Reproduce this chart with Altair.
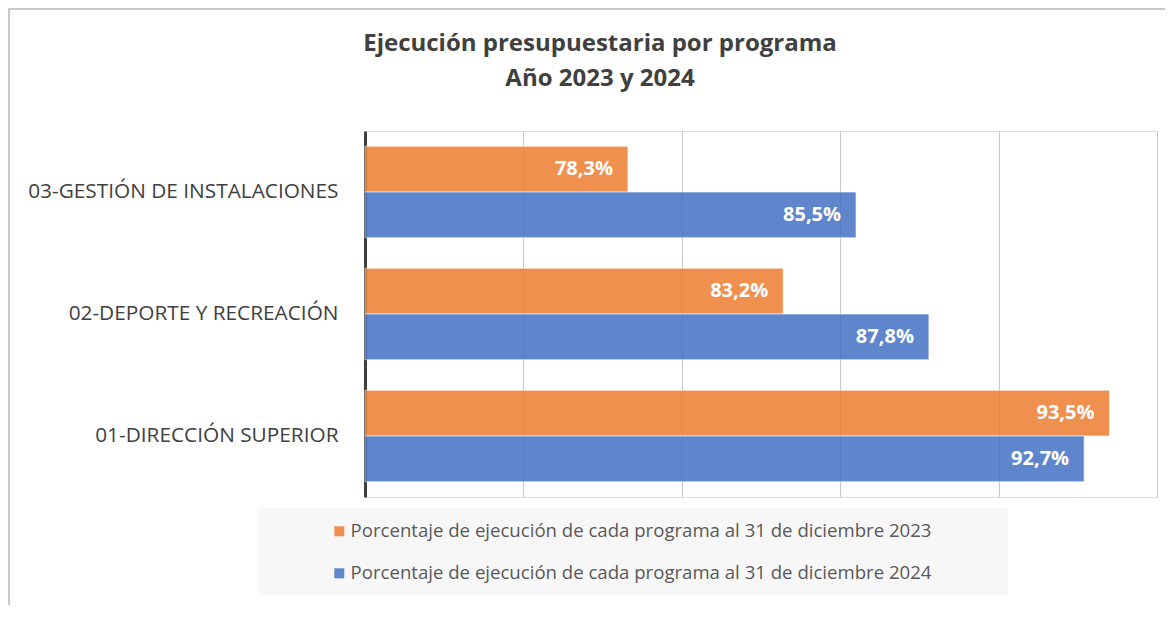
import altair as alt
import pandas as pd

programas = ["03-GESTIÓN DE INSTALACIONES", "02-DEPORTE Y RECREACIÓN", "01-DIRECCIÓN SUPERIOR"]
serie_2023 = "Porcentaje de ejecución de cada programa al 31 de diciembre 2023"
serie_2024 = "Porcentaje de ejecución de cada programa al 31 de diciembre 2024"
valores_2023 = [78.3, 83.2, 93.5]
valores_2024 = [85.5, 87.8, 92.7]
series = [serie_2023, serie_2024]
colores = ["#ED7D31", "#4472C4"]
ticks_x = [70, 75, 80, 85, 90, 95]

rows = []
for p, v in zip(programas, valores_2023):
    rows.append({"programa": p, "serie": serie_2023, "valor": v})
for p, v in zip(programas, valores_2024):
    rows.append({"programa": p, "serie": serie_2024, "valor": v})
df = pd.DataFrame(rows)
df["etiqueta"] = df["valor"].map(lambda v: f"{v:.1f}".replace(".", ",") + "%")

FONT = "Open Sans"
W, H = 792, 366
PL, PT = 357, 123

base = alt.Chart(df)

y_enc = alt.Y("programa:N", sort=programas, title=None,
              scale=alt.Scale(paddingInner=0.25, paddingOuter=0.125),
              axis=alt.Axis(labelFont=FONT, labelFontSize=20.8, labelColor="#404040",
                            labelPadding=27, ticks=False, domain=True,
                            domainColor="#404040", domainWidth=3, grid=False,
                            labelLimit=400))
yoff = alt.YOffset("serie:N", sort=series, scale=alt.Scale(paddingInner=0, paddingOuter=0))
x_enc = alt.X("valor:Q", title=None,
              scale=alt.Scale(domain=[70, 95], zero=False, nice=False),
              axis=alt.Axis(values=ticks_x, labels=False, ticks=False, domain=False,
                            grid=True, gridColor="#c8c8c8", gridWidth=1))

bars = base.mark_bar(opacity=0.85, stroke="#ffffff", strokeWidth=1, strokeOpacity=0.6).encode(
    y=y_enc,
    yOffset=yoff,
    x=x_enc,
    x2=alt.datum(70),
    color=alt.Color("serie:N", sort=series,
                    scale=alt.Scale(domain=series, range=colores),
                    legend=alt.Legend(title=None, orient="none", legendX=-35, legendY=391,
                                      labelFont=FONT, labelFontSize=18.6, labelColor="#595959",
                                      symbolType="square", symbolSize=100, symbolStrokeWidth=0,
                                      labelOffset=2, rowPadding=23, labelLimit=900,
                                      symbolOpacity=0.85)),
)

texts = base.mark_text(align="right", baseline="middle", dx=-15, font=FONT,
                       fontSize=20, fontWeight="bold", color="white").encode(
    y=alt.Y("programa:N", sort=programas),
    yOffset=alt.YOffset("serie:N", sort=series),
    x="valor:Q",
    text="etiqueta:N",
)

one = alt.Chart(pd.DataFrame({"a": [0]}))
legend_bg = one.mark_rect(color="#f7f7f7").encode(
    x=alt.value(-107), x2=alt.value(643), y=alt.value(377), y2=alt.value(464))
frame_top = one.mark_rule(color="#c8c8c8", strokeWidth=2).encode(
    x=alt.value(-PL), x2=alt.value(W + 20), y=alt.value(-PT + 1))
frame_left = one.mark_rule(color="#c8c8c8", strokeWidth=2).encode(
    x=alt.value(-PL + 1), y=alt.value(-PT), y2=alt.value(H + 200))

chart = alt.layer(frame_top, frame_left, legend_bg, bars, texts).properties(
    width=W, height=H,
    title=alt.TitleParams(["Ejecución presupuestaria por programa", "Año 2023 y 2024"],
                          font=FONT, fontSize=24, fontWeight="bold", color="#404040",
                          anchor="middle", dx=-161, offset=0, dy=84, lineHeight=35),
    autosize=alt.AutoSizeParams(type="none"),
    padding={"left": PL, "top": PT, "right": 8, "bottom": 108},
).configure_view(stroke=None).configure(background="white")

chart.save("out.html", embed_options={"renderer": "svg", "actions": False})
